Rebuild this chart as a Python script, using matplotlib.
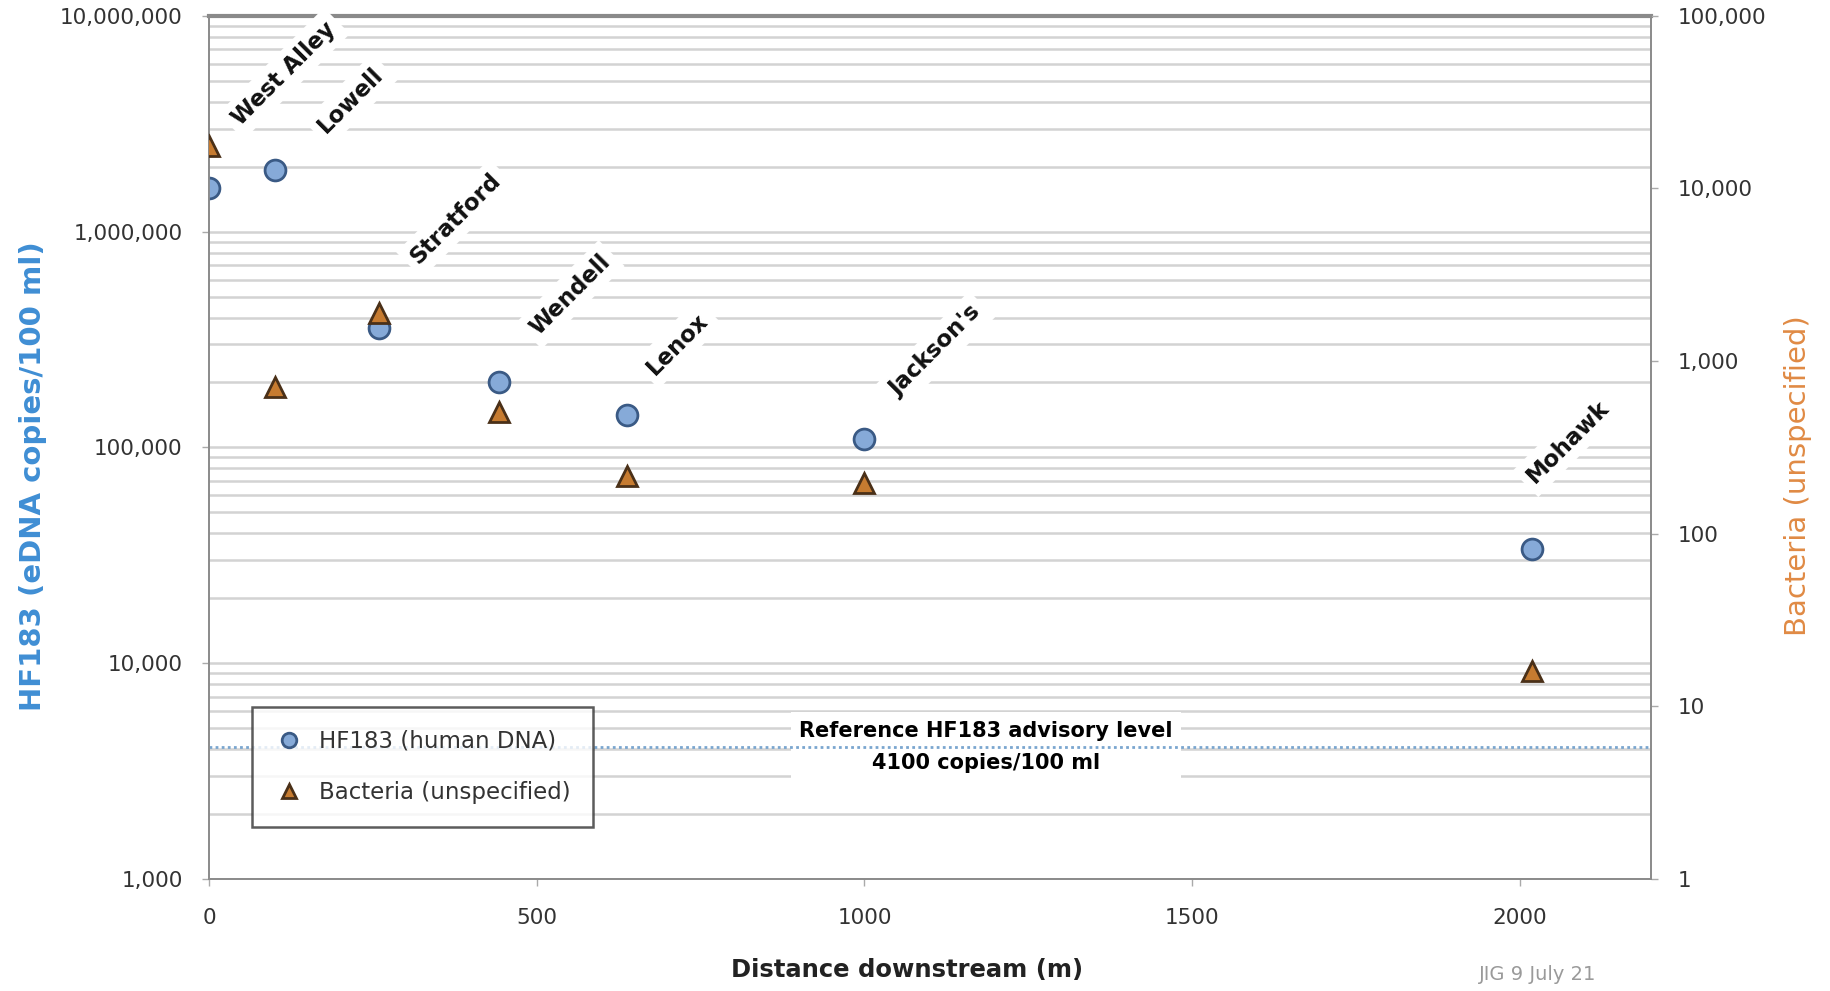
import matplotlib
matplotlib.use("Agg")
import matplotlib.pyplot as plt
from matplotlib.ticker import FixedLocator, FuncFormatter, LogLocator, NullFormatter

plt.rcParams['font.family'] = ['DejaVu Sans']

# sampling sites along the stream
sites = ["West Alley", "Lowell", "Stratford", "Wendell", "Lenox", "Jackson's", "Mohawk"]
distance = [0, 100, 260, 443, 637, 1000, 2018]
hf183 = [1600000, 1930000, 356000, 201000, 142000, 110000, 34000]
bacteria = [17700, 706, 1910, 508, 216, 197, 16]
advisory = 4100

# label offsets from each site's HF183 point (points)
label_dx = [54, 55, 55, 51, 37, 51, 26]
label_dy = [82, 50, 79, 63, 51, 63, 77]

blue_face = "#86aad8"
blue_edge = "#3a5a85"
tri_face = "#c67b30"
tri_edge = "#4a3018"
grid_c = "#d3d3d3"
spine_c = "#8c8c8c"

fig = plt.figure(figsize=(18.3, 9.91), dpi=100)
ax = fig.add_axes([0.1142, 0.113, 0.788, 0.871])
ax2 = ax.twinx()

ax.set_xlim(0, 2200)
ax.set_yscale('log')
ax.set_ylim(1e3, 1e7)
ax2.set_yscale('log')
ax2.set_ylim(1, 1e5)

# horizontal grid from the left axis, majors and minors
ax.yaxis.set_minor_locator(LogLocator(base=10, subs=range(2, 10)))
ax.yaxis.set_minor_formatter(NullFormatter())
ax.grid(True, which='both', axis='y', color=grid_c, lw=1.8, zorder=0)
ax.set_axisbelow(True)
ax2.yaxis.set_minor_locator(FixedLocator([]))

fmt = FuncFormatter(lambda v, p: f"{int(round(v)):,}")
ax.yaxis.set_major_formatter(fmt)
ax2.yaxis.set_major_formatter(fmt)
ax.set_xticks([0, 500, 1000, 1500, 2000])

for a in (ax, ax2):
    a.tick_params(axis='both', labelsize=15.5, colors='#333333', length=5,
                  width=1, direction='out', pad=14)
    a.tick_params(which='minor', length=0)
    for s in a.spines.values():
        s.set_color(spine_c)
        s.set_linewidth(1.3)
ax.tick_params(axis='x', pad=16)
ax.tick_params(axis='both', color='#aaaaaa')
ax2.tick_params(axis='y', color='#aaaaaa')
ax.spines['top'].set_color('#8a8a8a')
ax.spines['top'].set_linewidth(3)
ax2.spines['top'].set_visible(False)

# advisory level
ax.axhline(advisory, color="#7aa6cf", lw=2, ls=(0, (1, 1.2)), zorder=4)
ax.text(1185, advisory, "Reference HF183 advisory level\n4100 copies/100 ml",
        ha='center', va='center', fontsize=15, fontweight='bold',
        linespacing=1.75, zorder=3,
        bbox=dict(facecolor='white', edgecolor='none', pad=6))

# site names
for name, x, y, dx, dy in zip(sites, distance, hf183, label_dx, label_dy):
    ax.annotate(name, (x, y), xytext=(dx, dy), textcoords='offset points',
                rotation=45, rotation_mode='anchor', ha='center', va='center',
                fontsize=16.5, fontweight='bold', color='#111111', zorder=5,
                bbox=dict(facecolor='white', edgecolor='none', pad=5),
                annotation_clip=False)

h1, = ax.plot(distance, hf183, ls='none', marker='o', ms=15,
              mfc=blue_face, mec=blue_edge, mew=2, zorder=6,
              label="HF183 (human DNA)")
h2, = ax2.plot(distance, bacteria, ls='none', marker='^', ms=15,
               mfc=tri_face, mec=tri_edge, mew=2, zorder=6,
               label="Bacteria (unspecified)")

ax.set_xlabel("Distance downstream (m)", fontsize=17.5, fontweight='bold',
              color='#222222')
ax.xaxis.set_label_coords(0.484, -0.091)
ax.set_ylabel("HF183 (eDNA copies/100 ml)", fontsize=21, fontweight='bold',
              color='#3f8ed4')
ax.yaxis.set_label_coords(-0.112, 0.467)
ax2.set_ylabel("Bacteria (unspecified)", fontsize=21, color='#e08a44')
ax2.yaxis.set_label_coords(1.092, 0.467)

leg = ax2.legend([h1, h2], [h1.get_label(), h2.get_label()],
                 loc='lower left', bbox_to_anchor=(0.03, 0.06),
                 fontsize=16.5, frameon=True, fancybox=False, markerscale=0.7,
                 borderpad=1.0, labelspacing=1.25, handletextpad=0.7,
                 handlelength=1.2, borderaxespad=0)
leg.get_frame().set_edgecolor('#333333')
leg.get_frame().set_linewidth(1.8)
leg.set_zorder(10)
for t in leg.get_texts():
    t.set_color('#333333')

fig.text(0.808, 0.0165, "JIG 9 July 21", fontsize=14, color='#9a9a9a',
         va='center')

fig.savefig("out.png", dpi=100)
